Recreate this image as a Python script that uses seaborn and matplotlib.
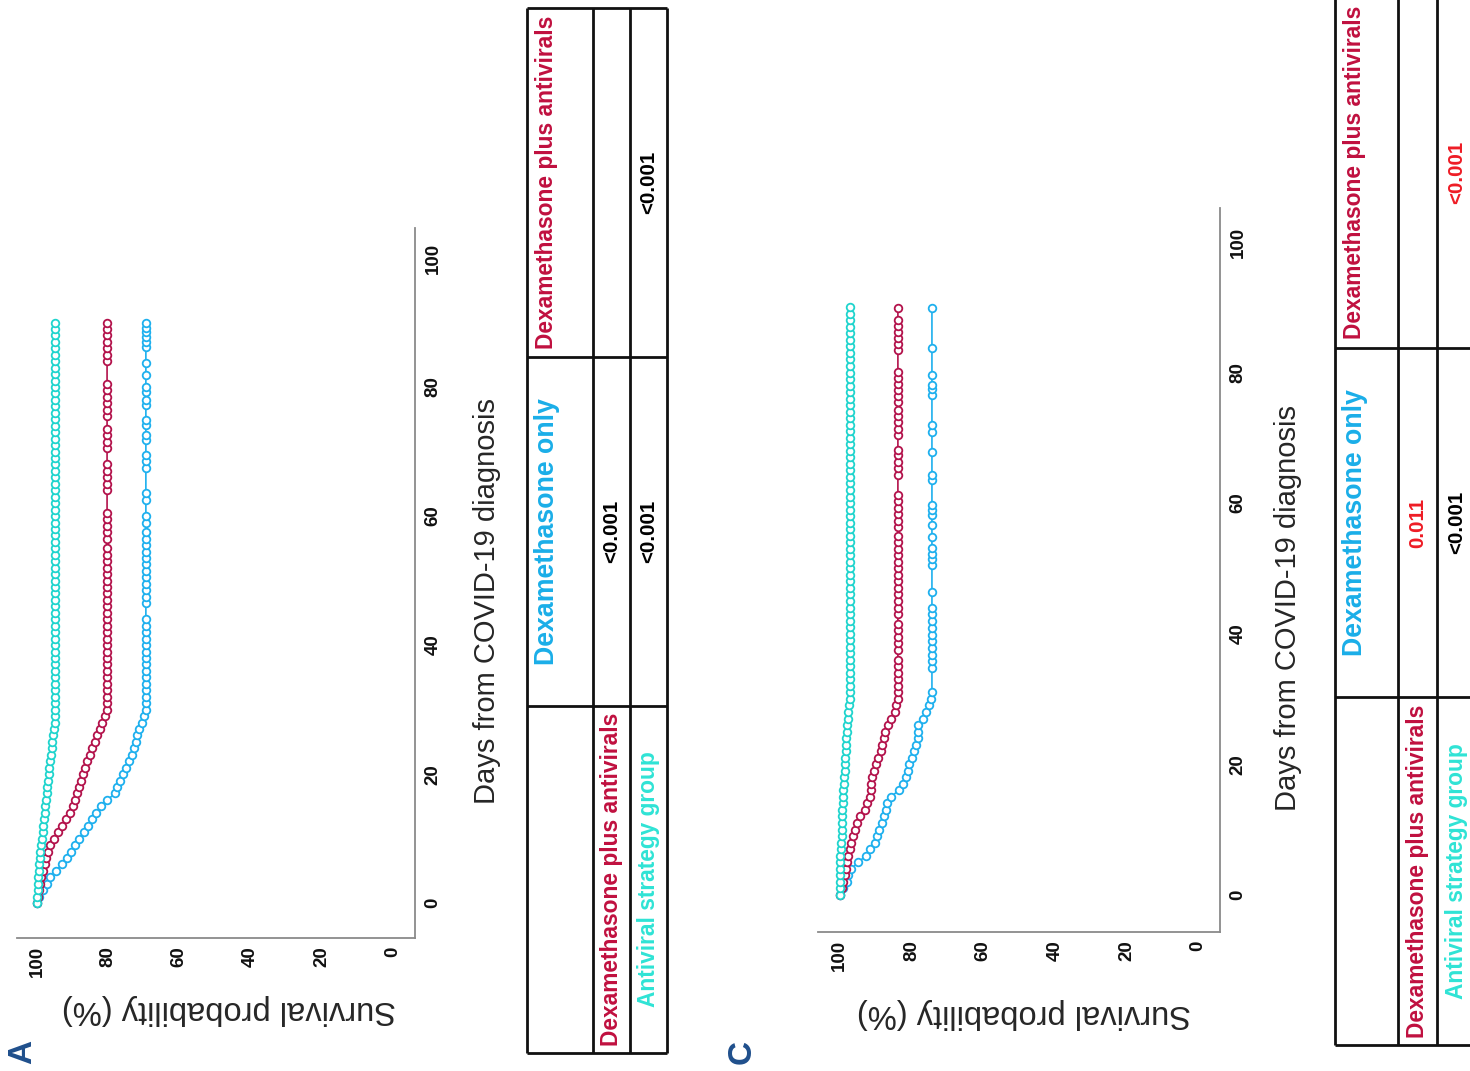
import numpy as np
import pandas as pd
import matplotlib
matplotlib.use('Agg')
import matplotlib.pyplot as plt
import seaborn as sns
from matplotlib import font_manager

# ---------------- data ----------------
groups = ['Antiviral strategy group', 'Dexamethasone plus antivirals', 'Dexamethasone only']
curve_colors = ['#1fd4cd', '#b3124b', '#1eb0ee']

# Panel A : descending part of each curve (day, survival %)
a_cyan_day = list(range(0, 29))
a_cyan_surv = [100, 99.9, 99.8, 99.7, 99.6, 99.5, 99.4, 99.2, 99.0, 98.8, 98.6, 98.4, 98.2, 98.0,
               97.8, 97.6, 97.5, 97.3, 97.1, 96.9, 96.7, 96.5, 96.3, 96.1, 95.9, 95.7, 95.4, 95.2, 95.0]
a_cyan_flat_day = [29, 30, 31, 32, 33, 34, 35, 36, 37, 38, 39, 40, 41, 42, 43, 44, 45, 46, 47, 48, 49,
                   50, 51, 52, 53, 54, 55, 56, 57, 58, 59, 60, 61, 62, 63, 64, 65, 66, 67, 68, 69, 70,
                   71, 72, 73, 74, 75, 76, 77, 78, 79, 80, 81, 82, 83, 84, 85, 86, 87, 88, 89, 90]
a_cyan_flat = 95.0

a_red_day = list(range(0, 31))
a_red_surv = [100, 99.8, 99.5, 99.1, 98.8, 98.3, 97.8, 97.4, 96.9, 96.4, 95.3, 94.2, 93.0, 91.7, 90.8,
              89.9, 89.3, 88.8, 88.2, 87.6, 87.1, 86.4, 85.8, 85.1, 84.5, 83.8, 83.2, 82.4, 81.6, 80.9, 80.3]
a_red_flat_day = [31, 32, 33, 34, 35, 36, 37, 38, 39, 40, 41, 42, 43, 44, 45, 46, 47, 48, 49, 50, 51,
                  52, 53, 54, 55, 56.5, 57.5, 58.5, 59.5, 60.5, 64, 65, 66, 67, 68, 70.5, 71.5, 72.5,
                  73.5, 75.5, 76.5, 77.5, 78.5, 79.5, 80.5, 84, 85, 86, 87, 88, 89, 90]
a_red_flat = 80.3

a_blue_day = list(range(0, 31))
a_blue_surv = [100, 99.3, 98.3, 97.3, 96.3, 94.7, 93.0, 91.6, 90.3, 89.3, 88.2, 86.9, 85.6, 84.5, 83.3,
               82.1, 80.3, 78.0, 77.5, 76.8, 75.8, 74.9, 74.0, 73.2, 72.6, 72.3, 72.0, 71.2, 70.4, 69.8, 69.4]
a_blue_flat_day = [31, 32, 33, 34, 35, 36, 37, 38, 39, 40, 41, 42, 43, 44, 46.5, 47.5, 48.5, 49.5, 50.5,
                   51.5, 52.5, 53.5, 54.5, 55.5, 56.5, 57.5, 59, 60, 62.5, 63.5, 67.5, 68.5, 69.5,
                   71.8, 72.6, 74.1, 74.9, 77.2, 78, 79.2, 80, 81.9, 83.7, 86.2, 87, 87.7, 88.5, 89.2, 90]
a_blue_flat = 69.4

# Panel C
c_cyan_day = list(range(0, 31))
c_cyan_surv = [100, 100, 100, 100, 100, 99.9, 99.9, 99.6, 99.6, 99.5, 99.5, 99.4, 99.4, 99.3, 99.2,
               99.1, 99.0, 98.9, 98.8, 98.7, 98.6, 98.5, 98.4, 98.3, 98.2, 98.0, 97.9, 97.7, 97.6, 97.4, 97.3]
c_cyan_flat_day = [31, 32, 33, 34, 35, 36, 37, 38, 39, 40, 41, 42, 43, 44, 45, 46, 47, 48, 49, 50, 51,
                   52, 53, 54, 55, 56, 57, 58, 59, 60, 61, 62, 63, 64, 65, 66, 67, 68, 69, 70, 71, 72,
                   73, 74, 75, 76, 77, 78, 79, 80, 81, 82, 83, 84, 85, 86, 87, 88, 89, 90]
c_cyan_flat = 97.3

c_red_day = list(range(0, 31))
c_red_surv = [100, 99.5, 99.0, 98.7, 98.4, 98.1, 97.6, 97.2, 96.8, 96.3, 95.8, 95.1, 94.4, 93.0, 92.3,
              91.6, 91.4, 91.2, 90.9, 90.5, 89.9, 89.3, 88.6, 88.2, 87.7, 87.3, 86.7, 85.8, 84.7, 84.3, 83.9]
c_red_flat_day = [31, 32, 33, 34, 35, 36, 37.5, 38.5, 39.5, 40.5, 41.5, 43, 44, 45, 46, 47, 48, 49, 50,
                  51, 52, 53, 54, 55, 56.3, 57.3, 58.3, 59.3, 60.3, 61.3, 64.3, 65.3, 66.3, 67.3, 68.1,
                  70.4, 71.4, 72.4, 73.4, 74.3, 75.5, 76.4, 77.3, 78.2, 79.1, 80.1, 83.5, 84.4, 85.3,
                  86.2, 87.1, 88, 89.9]
c_red_flat = 83.8

c_blue_day = list(range(0, 32))
c_blue_surv = [100, 99.0, 98.1, 97.6, 96.8, 94.8, 92.7, 91.5, 90.2, 89.6, 89.0, 88.3, 87.7, 87.2, 86.8,
               85.8, 83.5, 82.4, 81.6, 81.1, 80.6, 80.0, 79.4, 78.8, 78.3, 78.2, 78.1, 76.8, 75.9, 75.1,
               74.6, 74.3]
c_blue_flat_day = [34.8, 35.8, 36.8, 37.8, 38.8, 39.8, 40.9, 42, 43, 44, 46.4, 50.5, 51.4, 52.2, 53.1,
                   54.8, 56.7, 58.2, 59, 59.7, 63.6, 64.3, 67.8, 70.9, 72, 76.6, 77.4, 78.1, 79.6,
                   83.8, 89.9]
c_blue_flat = 74.3

day_ticks = [0, 20, 40, 60, 80, 100]
surv_ticks = [100, 80, 60, 40, 20, 0]

# pairwise p-value tables
col_headers = ['Dexamethasone only', 'Dexamethasone plus antivirals']
row_labels = ['Dexamethasone plus antivirals', 'Antiviral strategy group']
a_pvalues = [['<0.001', ''], ['<0.001', '<0.001']]
c_pvalues = [['0.011', ''], ['<0.001', '<0.001']]
c_pcolors = [['#ee1c25', 'black'], ['black', '#ee1c25']]
header_colors = ['#1aaee8', '#c0103f']
row_colors = ['#c0103f', '#2fe3d5']


def build_frame(parts):
    frames = []
    for name, (d, s, fd, fv) in zip(groups, parts):
        days = list(d) + list(fd)
        surv = list(s) + [fv] * len(fd)
        frames.append(pd.DataFrame({'group': name, 'day': days, 'survival': surv}))
    return pd.concat(frames, ignore_index=True)


df_a = build_frame([(a_cyan_day, a_cyan_surv, a_cyan_flat_day, a_cyan_flat),
                    (a_red_day, a_red_surv, a_red_flat_day, a_red_flat),
                    (a_blue_day, a_blue_surv, a_blue_flat_day, a_blue_flat)])
df_c = build_frame([(c_cyan_day, c_cyan_surv, c_cyan_flat_day, c_cyan_flat),
                    (c_red_day, c_red_surv, c_red_flat_day, c_red_flat),
                    (c_blue_day, c_blue_surv, c_blue_flat_day, c_blue_flat)])

# ---------------- figure ----------------
W, H = 1470, 1071
sns.set_style('white')
plt.rcParams['font.family'] = ['Liberation Sans', 'DejaVu Sans']
avail = {f.name for f in font_manager.fontManager.ttflist}
narrow = 'Liberation Sans Narrow' if 'Liberation Sans Narrow' in avail else 'Liberation Sans'
fscale = 1.0 if narrow == 'Liberation Sans Narrow' else 0.82

fig = plt.figure(figsize=(W / 100, H / 100), dpi=100)
canvas = fig.add_axes([0, 0, 1, 1])
canvas.set_xlim(0, W)
canvas.set_ylim(H, 0)
canvas.axis('off')


def box(l, t, r, b):
    return [l / W, 1 - b / H, (r - l) / W, (b - t) / H]


def draw_panel(df, rect, xlim, ylim):
    ax = fig.add_axes(box(*rect))
    ax.set_facecolor('none')
    pal = dict(zip(groups, curve_colors))
    for name in groups[::-1]:
        sub = df[df.group == name].sort_values('day')
        sns.lineplot(data=sub, x='survival', y='day', sort=False, estimator=None,
                     color=pal[name], lw=1.2, ax=ax)
        sns.scatterplot(data=sub, x='survival', y='day', color=pal[name], facecolor='white',
                        edgecolor=pal[name], s=30, linewidth=1.3, marker='o', ax=ax, zorder=3)
    ax.set_xlim(*xlim)
    ax.set_ylim(*ylim)
    ax.set_xticks(surv_ticks)
    ax.set_yticks(day_ticks)
    ax.yaxis.tick_right()
    ax.tick_params(length=0, labelsize=13.5, labelcolor='#111111')
    ax.tick_params(axis='x', pad=6)
    ax.tick_params(axis='y', pad=7)
    for lab in ax.get_xticklabels():
        lab.set_rotation(90)
        lab.set_fontweight('bold')
        lab.set_va('top')
    for lab in ax.get_yticklabels():
        lab.set_rotation(90)
        lab.set_fontweight('bold')
        lab.set_va('center')
        lab.set_ha('left')
    ax.set_xlabel('')
    ax.set_ylabel('')
    for side in ['left', 'top']:
        ax.spines[side].set_visible(False)
    for side in ['right', 'bottom']:
        ax.spines[side].set_color('#8a8a8a')
        ax.spines[side].set_linewidth(1.3)
    return ax


draw_panel(df_a, (17, 228, 415, 938), (105.6, -6.2), (-5.4, 104.65))
draw_panel(df_c, (818, 208, 1220, 932), (106.1, -6.1), (-5.7, 105.2))

# axis titles (figure is turned a quarter turn)
canvas.text(229, 1009, 'Survival probability (%)', rotation=180, ha='center', va='center', fontsize=23.5)
canvas.text(487, 601, 'Days from COVID-19 diagnosis', rotation=90, ha='center', va='center', fontsize=21)
canvas.text(1024, 1014, 'Survival probability (%)', rotation=180, ha='center', va='center', fontsize=23.5)
canvas.text(1288, 608, 'Days from COVID-19 diagnosis', rotation=90, ha='center', va='center', fontsize=21)

# panel letters
canvas.text(23, 1052, 'A', rotation=90, ha='center', va='center', fontsize=24, fontweight='bold', color='#1f4f8c')
canvas.text(742, 1052, 'C', rotation=90, ha='center', va='center', fontsize=24, fontweight='bold', color='#1f4f8c')


def draw_table(xs, ys, pvals, pcolors):
    canvas.vlines(xs, ys[0], ys[-1], color='#111111', lw=2, clip_on=False)
    canvas.hlines(ys, xs[0], xs[-1], color='#111111', lw=2, clip_on=False)
    ycent = [(ys[i] + ys[i + 1]) / 2 for i in range(3)]
    # header (columns run from bottom to top: labels, Dexa only, Dexa plus antivirals)
    hx = xs[0] + 20
    for j, (txt, col) in enumerate(zip(col_headers, header_colors)):
        size = 23.5 if j == 0 else 20
        canvas.text(hx, ycent[1 - j], txt, rotation=90, ha='center', va='center', color=col,
                    fontsize=size * fscale, fontweight='bold', family=narrow)
    for i, (txt, col) in enumerate(zip(row_labels, row_colors)):
        rx = (xs[i + 1] + xs[i + 2]) / 2
        canvas.text(rx, ycent[2], txt, rotation=90, ha='center', va='center', color=col,
                    fontsize=20 * fscale, fontweight='bold', family=narrow)
        for j in range(2):
            canvas.text(rx, ycent[1 - j], pvals[i][j], rotation=90, ha='center', va='center',
                        color=pcolors[i][j], fontsize=18 * fscale, fontweight='bold', family=narrow)


draw_table([527, 593, 630, 667], [8, 357, 706, 1053], a_pvalues, [['black', 'black'], ['black', 'black']])
draw_table([1335, 1398, 1437, 1476], [-4, 348, 697, 1045], c_pvalues, c_pcolors)

fig.savefig('out.png', dpi=100)
